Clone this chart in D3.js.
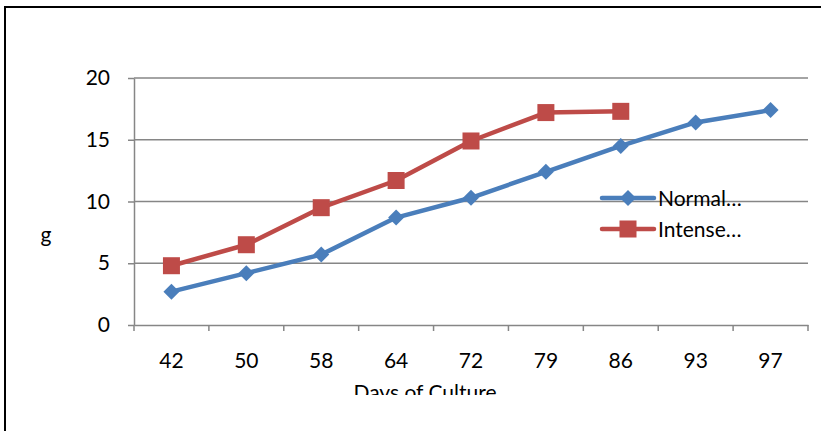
<!DOCTYPE html>
<html>
<head>
<meta charset="utf-8">
<script src="https://cdn.jsdelivr.net/npm/d3@7"></script>
<style>
  body { margin: 0; background: #fff; }
  svg { display: block; }
</style>
</head>
<body>
<div class="chart"></div>
<script>
        //Width and height
        var w = 821;
        var h = 431;

        var days = ["42", "50", "58", "64", "72", "79", "86", "93", "97"];
        var normal = [2.7, 4.2, 5.7, 8.7, 10.3, 12.4, 14.5, 16.4, 17.4];
        var intense = [4.8, 6.5, 9.5, 11.7, 14.9, 17.2, 17.3];
        var yTicks = [0, 5, 10, 15, 20];
        var seriesNames = ["Normal…", "Intense…"];

        var font = "Lato, 'Open Sans', sans-serif";
        var fs = "21px";

        var xScale = d3.scaleBand()
                        .domain(days)
                        .range([134, 808]);

        var yScale = d3.scaleLinear()
                        .domain([0, 20])
                        .range([325, 78]);

        var svg = d3.select("div.chart")
                    .append("svg")
                    .attr("width", w)
                    .attr("height", h);

        svg.append("clipPath").attr("id", "clip")
           .append("rect").attr("x", 0).attr("y", 0).attr("width", w).attr("height", 395);

        // outer frame
        svg.append("rect")
           .attr("x", 5).attr("y", 7)
           .attr("width", w + 20).attr("height", h + 20)
           .attr("fill", "none")
           .attr("stroke", "#000")
           .attr("stroke-width", 2);

        // gridlines
        svg.selectAll("line.grid")
           .data(yTicks.slice(1))
           .enter()
           .append("line")
           .attr("class", "grid")
           .attr("x1", 134).attr("x2", 808)
           .attr("y1", function(d) { return yScale(d); })
           .attr("y2", function(d) { return yScale(d); })
           .attr("stroke", "#868686")
           .attr("stroke-width", 1.5);

        // y axis
        var y_axis = d3.axisLeft(yScale).tickValues(yTicks).tickSize(6).tickSizeOuter(0);
        var gy = svg.append("g")
            .attr("transform", "translate(134,0)")
            .call(y_axis);
        gy.selectAll("text")
            .attr("font-family", font)
            .attr("font-size", fs)
            .attr("fill", "#000")
            .attr("x", -24);

        // x axis
        var x_axis = d3.axisBottom(xScale).tickSize(6).tickSizeOuter(0);
        var gx = svg.append("g")
            .attr("transform", "translate(0,325)")
            .call(x_axis);
        gx.selectAll(".tick line").remove();
        gx.selectAll("text")
            .attr("font-family", font)
            .attr("font-size", fs)
            .attr("fill", "#000")
            .attr("y", 28);
        // category separator ticks
        var edges = days.map(function(d) { return xScale(d); }).concat([xScale.range()[1]]);
        gx.selectAll("line.sep")
          .data(edges)
          .enter()
          .append("line")
          .attr("class", "sep")
          .attr("x1", function(d) { return d; })
          .attr("x2", function(d) { return d; })
          .attr("y1", 0).attr("y2", 6)
          .attr("stroke", "#868686")
          .attr("stroke-width", 1.5);

        svg.selectAll(".domain").attr("stroke", "#868686").attr("stroke-width", 1.5);
        svg.selectAll(".tick line").attr("stroke", "#868686").attr("stroke-width", 1.5);

        // axis titles
        svg.append("text")
            .attr("clip-path", "url(#clip)")
            .attr("x", 425).attr("y", 400)
            .attr("text-anchor", "middle")
            .attr("font-family", font)
            .attr("font-size", fs)
            .text("Days of Culture");

        svg.append("text")
            .attr("x", 46).attr("y", 242)
            .attr("text-anchor", "middle")
            .attr("font-family", font)
            .attr("font-size", fs)
            .text("g");

        var cx = function(d, i) { return xScale(days[i]) + xScale.bandwidth() / 2; };

        var line = d3.line()
            .x(function(d, i) { return cx(d, i); })
            .y(function(d) { return yScale(d); });

        var blue = "#4A7EBB";
        var red = "#BE4B48";

        svg.append("path").datum(normal)
           .attr("d", line).attr("fill", "none")
           .attr("stroke", blue).attr("stroke-width", 4.5)
           .attr("stroke-linejoin", "round");

        svg.append("path").datum(intense)
           .attr("d", line).attr("fill", "none")
           .attr("stroke", red).attr("stroke-width", 4.5)
           .attr("stroke-linejoin", "round");

        var diamond = d3.symbol().type(d3.symbolSquare).size(128);

        svg.selectAll("path.dia")
           .data(normal)
           .enter()
           .append("path")
           .attr("class", "dia")
           .attr("d", diamond)
           .attr("transform", function(d, i) {
               return "translate(" + cx(d, i) + "," + yScale(d) + ") rotate(45)";
           })
           .attr("fill", blue);

        svg.selectAll("rect.sq")
           .data(intense)
           .enter()
           .append("rect")
           .attr("class", "sq")
           .attr("x", function(d, i) { return cx(d, i) - 8.5; })
           .attr("y", function(d) { return yScale(d) - 8.5; })
           .attr("width", 17).attr("height", 17)
           .attr("fill", red);

        // legend
        var legend = svg.append("g").attr("transform", "translate(600,198)");
        seriesNames.forEach(function(name, i) {
            var g = legend.append("g").attr("transform", "translate(0," + (i * 31) + ")");
            g.append("line")
             .attr("x1", 2).attr("x2", 54).attr("y1", 0).attr("y2", 0)
             .attr("stroke", i === 0 ? blue : red)
             .attr("stroke-width", 4.5)
             .attr("stroke-linecap", "round");
            if (i === 0) {
                g.append("path").attr("d", diamond)
                 .attr("transform", "translate(28,0) rotate(45)")
                 .attr("fill", blue);
            } else {
                g.append("rect").attr("x", 19.5).attr("y", -8.5)
                 .attr("width", 17).attr("height", 17).attr("fill", red);
            }
            g.append("text")
             .attr("x", 58).attr("y", 8)
             .attr("font-family", font)
             .attr("font-size", fs)
             .text(name);
        });
</script>
</body>
</html>
